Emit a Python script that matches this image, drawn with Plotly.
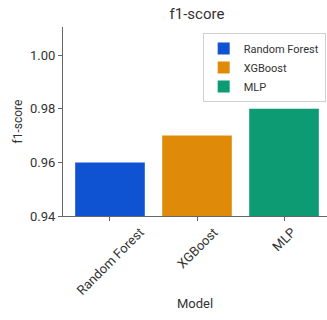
import plotly.graph_objects as go

models = ["Random Forest", "XGBoost", "MLP"]
f1_scores = [0.96, 0.97, 0.98]
colors = ["#0F53D2", "#DF8B09", "#0C9B72"]
y_ticks = [0.94, 0.96, 0.98, 1.00]
y_tick_labels = ["0.94", "0.96", "0.98", "1.00"]

fig = go.Figure()
for m, v, c in zip(models, f1_scores, colors):
    fig.add_trace(go.Bar(x=[m], y=[v], name=m, marker=dict(color=c, line=dict(width=0)),
                         width=0.8))

font = "Roboto, Inter, sans-serif"

# rotated category labels centred under their ticks (matplotlib-style ha="center")
for m in models:
    fig.add_annotation(x=m, xref="x", y=0, yref="paper", text=m, textangle=-45,
                       showarrow=False, xanchor="center", yanchor="top", yshift=-6,
                       font=dict(size=13, color="#333333", family=font))

fig.update_layout(
    width=327, height=320,
    margin=dict(l=63, r=0, t=27, b=104, autoexpand=False),
    paper_bgcolor="white", plot_bgcolor="white",
    font=dict(family=font, size=12, color="#333333"),
    title=dict(text="f1-score", x=(197 / 327), xanchor="center", y=1 - 14 / 320, yanchor="middle",
               font=dict(size=15, color="#333333")),
    barmode="overlay",
    showlegend=True,
    legend=dict(x=0.995, y=0.968, xanchor="right", yanchor="top",
                bordercolor="#d0d0d0", borderwidth=1, bgcolor="white",
                font=dict(size=11, color="#333333"),
                tracegroupgap=0, itemwidth=30),
    xaxis=dict(range=[-0.54, 2.494], showticklabels=False, showline=True, linecolor="#666666",
               ticks="outside", ticklen=4, tickcolor="#666666", showgrid=False,
               automargin=False,
               title=dict(text="Model", font=dict(size=13), standoff=78)),
    yaxis=dict(range=[0.94, 1.0105], tickvals=y_ticks, ticktext=y_tick_labels,
               showline=True, linecolor="#666666", ticks="outside", ticklen=4,
               tickcolor="#666666", showgrid=False, zeroline=False, automargin=False,
               title=dict(text="f1-score", font=dict(size=12), standoff=4),
               tickfont=dict(size=13)),
)

fig.write_html("out.html", config={"displayModeBar": False},
               post_script="document.body.style.margin='0';document.body.style.overflow='hidden';")
